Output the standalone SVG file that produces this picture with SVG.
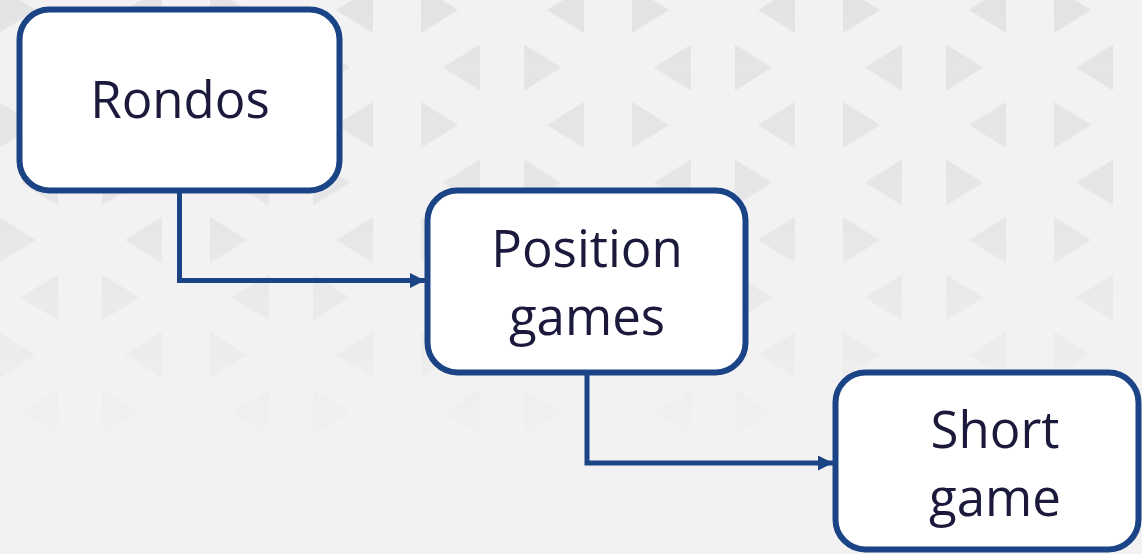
<svg xmlns="http://www.w3.org/2000/svg" width="1142" height="554" viewBox="0 0 1142 554">
  <style>
    .box { fill: #ffffff; stroke: #1b4486; stroke-width: 6; }
    .lbl { font-family: "Open Sans", "Noto Sans", "Liberation Sans", sans-serif; font-size: 51px; fill: #1b1a3c; text-anchor: middle; }
    .conn { fill: none; stroke: #1b4486; stroke-width: 5; }
    .tri { fill: #e3e3e6; }
  </style>
  <defs>
    <pattern id="tris" patternUnits="userSpaceOnUse" x="105" y="-18.75" width="211" height="115">
      <polygon class="tri" points="20,28.75 57,5.75 57,51.75"/>
      <polygon class="tri" points="105,5.75 142,28.75 105,51.75"/>
      <polygon class="tri" points="127,86.25 164,63.25 164,109.25"/>
      <polygon class="tri" points="208,63.25 245,86.25 208,109.25"/>
      <polygon class="tri" points="-3,63.25 34,86.25 -3,109.25"/>
    </pattern>
    <linearGradient id="fadeG" x1="0" y1="0" x2="0" y2="1">
      <stop offset="0" stop-color="#fff" stop-opacity="1"/>
      <stop offset="0.4" stop-color="#fff" stop-opacity="0.8"/>
      <stop offset="0.82" stop-color="#fff" stop-opacity="0"/>
    </linearGradient>
    <mask id="fade" maskUnits="userSpaceOnUse" x="0" y="0" width="1142" height="554">
      <rect x="0" y="0" width="1142" height="554" fill="url(#fadeG)"/>
    </mask>
    <marker id="arr" viewBox="0 0 15 15" refX="15" refY="7.5" markerWidth="15" markerHeight="15" markerUnits="userSpaceOnUse" orient="auto">
      <polygon points="0,0 15,7.5 0,15" fill="#1b4486"/>
    </marker>
  </defs>

  <rect x="0" y="0" width="1142" height="554" fill="#f2f2f2"/>
  <rect x="0" y="0" width="1142" height="554" fill="url(#tris)" mask="url(#fade)"/>

  <g id="connectors">
    <polyline class="conn" points="179.5,190 179.5,280.5 425,280.5" marker-end="url(#arr)"/>
    <polyline class="conn" points="587,372 587,463 833,463" marker-end="url(#arr)"/>
  </g>

  <g id="node-rondos">
    <rect class="box" x="19.5" y="9.5" width="320" height="181" rx="30"/>
    <text class="lbl" x="180" y="118">Rondos</text>
  </g>

  <g id="node-position-games">
    <rect class="box" x="427.5" y="190.5" width="318" height="182" rx="30"/>
    <text class="lbl" x="587" y="267">Position</text>
    <text class="lbl" x="587" y="335">games</text>
  </g>

  <g id="node-short-game">
    <rect class="box" x="835.5" y="372.5" width="303" height="177" rx="30"/>
    <text class="lbl" x="995" y="448">Short</text>
    <text class="lbl" x="995" y="516">game</text>
  </g>
</svg>
